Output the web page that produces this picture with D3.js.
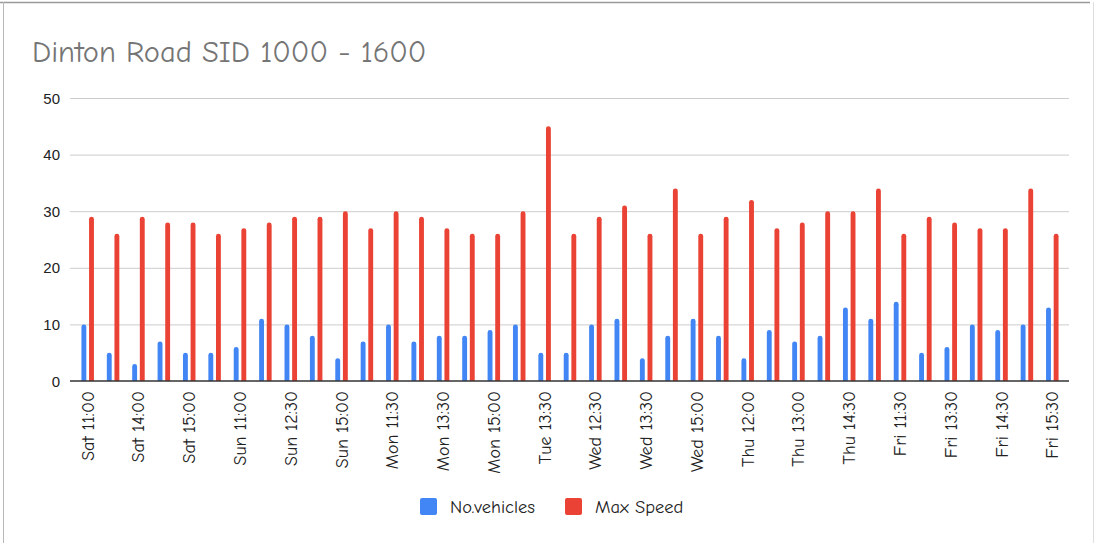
<!DOCTYPE html>
<html>
<head>
<meta charset="utf-8">
<script src="https://cdn.jsdelivr.net/npm/d3@7"></script>
<style>
  body { margin: 0; background: #fff; }
  .comic { font-family: "Comic Sans MS", "Comic Neue", "DejaVu Sans", sans-serif; }
</style>
</head>
<body>
<div id="chart"></div>
<script>
// data
const times = [
  "Sat 11:00", "Sat 13:30", "Sat 14:00", "Sat 14:30", "Sat 15:00", "Sat 15:30",
  "Sun 11:00", "Sun 12:00", "Sun 12:30", "Sun 14:00", "Sun 15:00", "Sun 15:30",
  "Mon 11:30", "Mon 12:30", "Mon 13:30", "Mon 14:30", "Mon 15:00", "Mon 15:30",
  "Tue 13:30", "Wed 12:00", "Wed 12:30", "Wed 13:00", "Wed 13:30", "Wed 14:30",
  "Wed 15:00", "Thu 11:30", "Thu 12:00", "Thu 12:30", "Thu 13:00", "Thu 14:00",
  "Thu 14:30", "Thu 15:00", "Fri 11:30", "Fri 12:30", "Fri 13:30", "Fri 14:00",
  "Fri 14:30", "Fri 15:00", "Fri 15:30"
];
const vehicles = [10, 5, 3, 7, 5, 5, 6, 11, 10, 8, 4, 7, 10, 7, 8, 8, 9, 10, 5, 5,
  10, 11, 4, 8, 11, 8, 4, 9, 7, 8, 13, 11, 14, 5, 6, 10, 9, 10, 13];
const maxSpeed = [29, 26, 29, 28, 28, 26, 27, 28, 29, 29, 30, 27, 30, 29, 27, 26, 26, 30, 45, 26,
  29, 31, 26, 34, 26, 29, 32, 27, 28, 30, 30, 34, 26, 29, 28, 27, 27, 34, 26];
const seriesNames = ["No.vehicles", "Max Speed"];
const seriesColors = ["#4285F4", "#EA4335"];
const yTicks = [0, 10, 20, 30, 40, 50];

const W = 1095, H = 543;
const svg = d3.select("#chart").append("svg").attr("width", W).attr("height", H);

// sheet frame
svg.append("line").attr("x1", 0).attr("x2", 1090).attr("y1", 2.5).attr("y2", 2.5)
  .attr("stroke", "#9a9a9a").attr("stroke-width", 1.5);
svg.append("line").attr("x1", 3.5).attr("x2", 3.5).attr("y1", 2).attr("y2", H)
  .attr("stroke", "#b8b8b8");
svg.append("line").attr("x1", 1093.5).attr("x2", 1093.5).attr("y1", 2).attr("y2", H)
  .attr("stroke", "#dedede");

svg.append("text")
  .attr("class", "comic")
  .attr("x", 32).attr("y", 62)
  .attr("fill", "#757575")
  .attr("font-size", 30.5)
  .text("Dinton Road SID 1000 - 1600");

const x = d3.scaleBand().domain(times).range([75, 1065]).padding(0);
const xs = d3.scaleBand().domain(seriesNames).range([x.bandwidth() / 2 - 9, x.bandwidth() / 2 + 9]).padding(0.36);
const y = d3.scaleLinear().domain([0, 50]).range([381, 98]);

// gridlines
svg.append("g").selectAll("line").data(yTicks.slice(1)).join("line")
  .attr("x1", 70).attr("x2", 1069)
  .attr("y1", d => y(d) + 0.5).attr("y2", d => y(d) + 0.5)
  .attr("stroke", "#cccccc");

svg.append("g").selectAll("text").data(yTicks).join("text")
  .attr("x", 60).attr("y", d => y(d) + 5.5)
  .attr("text-anchor", "end")
  .attr("font-family", "Liberation Sans, Arial, sans-serif")
  .attr("font-size", 15)
  .attr("fill", "#222")
  .text(d => d);

// bars with rounded tops
function barPath(x0, w, top, base) {
  const r = Math.min(w / 2, base - top);
  return `M${x0},${base}V${top + r}A${r},${r} 0 0 1 ${x0 + w},${top + r}V${base}Z`;
}
const rows = times.map((t, i) => ({ t, vals: [vehicles[i], maxSpeed[i]] }));
const groups = svg.append("g").selectAll("g").data(rows).join("g")
  .attr("transform", d => `translate(${x(d.t)},0)`);
groups.selectAll("path").data(d => d.vals.map((v, j) => ({ v, s: seriesNames[j], c: seriesColors[j] })))
  .join("path")
  .attr("fill", d => d.c)
  .attr("d", d => barPath(xs(d.s), xs.bandwidth(), y(d.v), y(0)));

// baseline
svg.append("line").attr("x1", 70).attr("x2", 1069).attr("y1", 381).attr("y2", 381)
  .attr("stroke", "#333").attr("stroke-width", 1.5);

// x labels, every other one
svg.append("g").selectAll("text").data(times.filter((d, i) => i % 2 === 0)).join("text")
  .attr("class", "comic")
  .attr("transform", d => `translate(${x(d) + x.bandwidth() / 2 + 6},391) rotate(-90)`)
  .attr("text-anchor", "end")
  .attr("font-size", 18)
  .attr("fill", "#222")
  .text(d => d);

// legend
const legend = svg.append("g").attr("class", "comic");
const legX = [420, 565];
seriesNames.forEach((name, i) => {
  legend.append("rect").attr("x", legX[i]).attr("y", 498).attr("width", 17).attr("height", 17)
    .attr("rx", 2).attr("fill", seriesColors[i]);
  legend.append("text").attr("x", legX[i] + 30).attr("y", 513)
    .attr("font-size", 18.5).attr("fill", "#222").text(name);
});
</script>
</body>
</html>
